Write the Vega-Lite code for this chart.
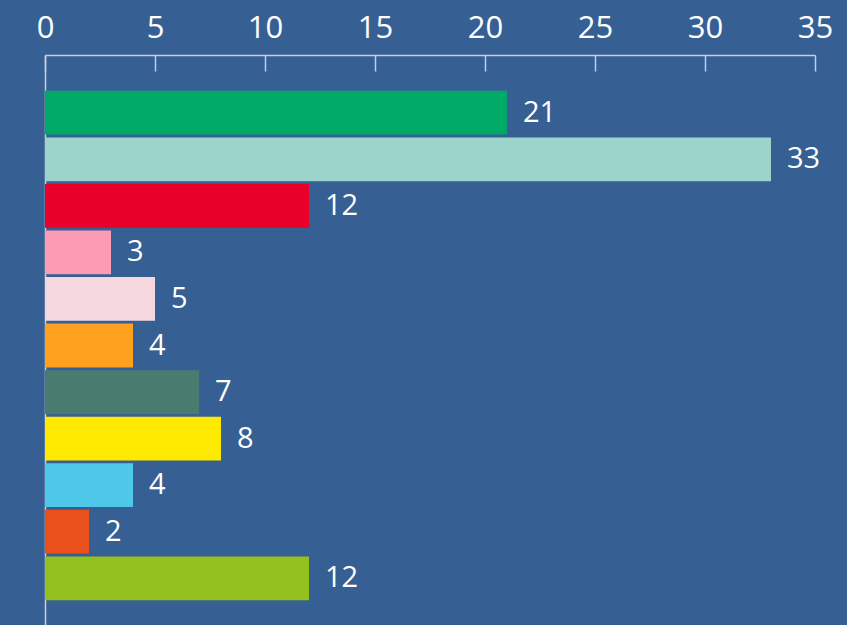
{
  "$schema": "https://vega.github.io/schema/vega-lite/v6.json",
  "autosize": {"type": "none"},
  "padding": {"left": 45, "top": 55, "right": 32, "bottom": 0},
  "width": 770,
  "height": 581,
  "background": "#365f93",
  "config": {
    "view": {"stroke": null},
    "font": "Open Sans"
  },
  "data": {
    "values": [
      {"cat": "a", "value": 21, "color": "#00aa66"},
      {"cat": "b", "value": 33, "color": "#9cd3ca"},
      {"cat": "c", "value": 12, "color": "#e8002b"},
      {"cat": "d", "value": 3, "color": "#fc9bb3"},
      {"cat": "e", "value": 5, "color": "#f5d8de"},
      {"cat": "f", "value": 4, "color": "#ffa01e"},
      {"cat": "g", "value": 7, "color": "#4a7b6f"},
      {"cat": "h", "value": 8, "color": "#ffe900"},
      {"cat": "i", "value": 4, "color": "#4fc7e8"},
      {"cat": "j", "value": 2, "color": "#ea501c"},
      {"cat": "k", "value": 12, "color": "#95c11f"}
    ]
  },
  "encoding": {
    "y": {
      "field": "cat",
      "type": "nominal",
      "sort": null,
      "scale": {"paddingInner": 0.06, "paddingOuter": 0.77},
      "axis": {
        "title": null,
        "labels": false,
        "ticks": false,
        "grid": false,
        "domainColor": "#c5cfe0",
        "domainWidth": 1.5
      }
    }
  },
  "layer": [
    {
      "mark": {"type": "bar"},
      "encoding": {
        "x": {
          "field": "value",
          "type": "quantitative",
          "scale": {"domain": [0, 35], "nice": false},
          "axis": {
            "orient": "top",
            "title": null,
            "values": [0, 5, 10, 15, 20, 25, 30, 35],
            "grid": false,
            "ticks": false,
            "domainColor": "#c5cfe0",
            "domainWidth": 1.5,
            "labelColor": "#ffffff",
            "labelFont": "Open Sans",
            "labelFontSize": 31,
            "labelPadding": 11,
            "labelFlush": false
          }
        },
        "color": {"field": "color", "type": "nominal", "scale": null, "legend": null}
      }
    },
    {
      "mark": {"type": "text", "align": "left", "baseline": "middle", "dx": 16, "dy": 0, "color": "#ffffff", "font": "Open Sans", "fontSize": 29},
      "encoding": {
        "x": {
          "field": "value",
          "type": "quantitative",
          "scale": {"domain": [0, 35], "nice": false},
          "axis": {
            "orient": "top",
            "title": null,
            "values": [0, 5, 10, 15, 20, 25, 30, 35],
            "grid": false,
            "domain": false,
            "labels": false,
            "offset": -16,
            "tickColor": "#c5cfe0",
            "tickWidth": 1.5,
            "tickSize": 16
          }
        },
        "text": {"field": "value", "type": "quantitative"}
      }
    }
  ],
  "resolve": {"axis": {"x": "independent"}}
}
